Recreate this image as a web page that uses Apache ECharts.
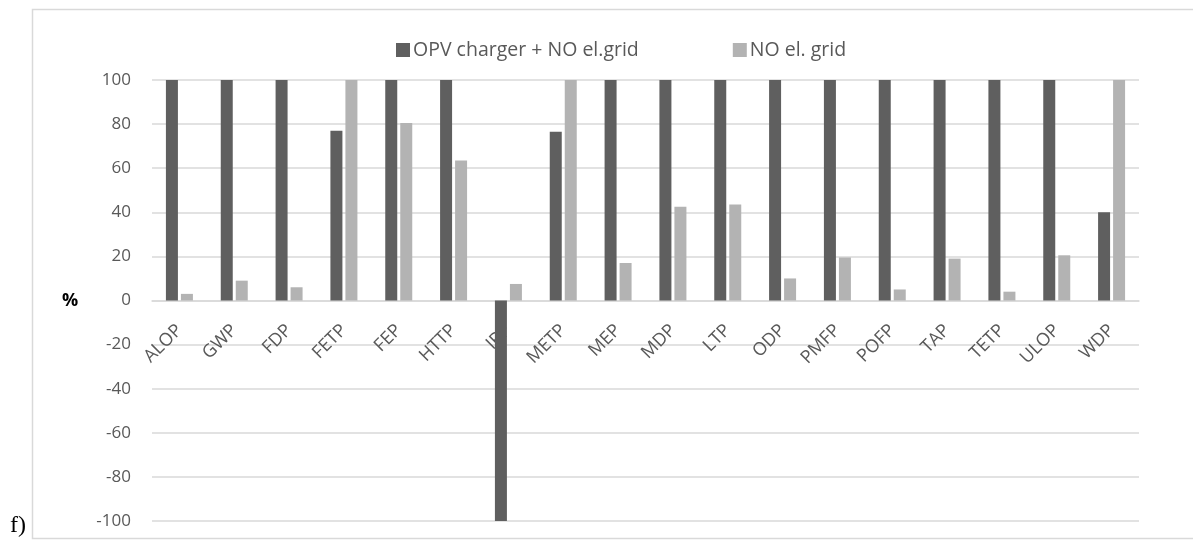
<!DOCTYPE html>
<html>
<head>
<meta charset="utf-8">
<script src="https://cdn.jsdelivr.net/npm/echarts@6/dist/echarts.min.js"></script>
<style>
html,body{margin:0;padding:0;background:#fff;}
#c{width:1193px;height:540px;}
</style>
</head>
<body>
<div id="c"></div>
<script>
var categories = ['ALOP','GWP','FDP','FETP','FEP','HTTP','IRP','METP','MEP','MDP','LTP','ODP','PMFP','POFP','TAP','TETP','ULOP','WDP'];
var opvCharger = [100,100,100,77,100,100,-100,76.5,100,100,100,100,100,100,100,100,100,40];
var noGrid = [3,9,6,100,80.5,63.5,7.5,100,17,42.5,43.5,10,19.5,5,19,4,20.5,100];
var seriesNames = ['OPV charger + NO el.grid','NO el. grid'];
var yTicks = {min:-100, max:100, interval:20};

var chart = echarts.init(document.getElementById('c'), null, {renderer:'canvas'});
var txt = '#595959';
chart.setOption({
  animation:false,
  backgroundColor:'#fff',
  textStyle:{fontFamily:'Open Sans'},
  legend:{
    top:35, left:391,
    itemWidth:14, itemHeight:14, itemGap:94,
    icon:'rect',
    textStyle:{color:txt, fontSize:19.5, fontFamily:'Open Sans', padding:[0,0,0,-2]},
    data:seriesNames
  },
  grid:{left:152, right:54, top:80, bottom:19, containLabel:false},
  xAxis:{
    type:'category', data:categories,
    offset:-220.5,
    axisLine:{show:true, onZero:false, lineStyle:{color:'#d9d9d9', width:1.5}},
    axisTick:{show:false},
    axisLabel:{rotate:45, margin:27, color:txt, fontSize:18, fontFamily:'Open Sans', interval:0}
  },
  yAxis:{
    type:'value', min:yTicks.min, max:yTicks.max, interval:yTicks.interval,
    axisLine:{show:false}, axisTick:{show:false},
    axisLabel:{color:txt, fontSize:17, margin:21, fontFamily:'Open Sans'},
    splitLine:{lineStyle:{color:'#d9d9d9', width:1.5}}
  },
  series:[
    {name:seriesNames[0], type:'bar', data:opvCharger, barWidth:12, barGap:'25%',
     itemStyle:{color:'#5f5f5f'}, z:5},
    {name:seriesNames[1], type:'bar', data:noGrid, barWidth:12,
     itemStyle:{color:'#b3b3b3'}, z:5}
  ],
  graphic:[
    {type:'rect', left:30, top:7, silent:true, z:-1,
     shape:{width:1200, height:529},
     style:{fill:null, stroke:'#d9d9d9', lineWidth:1.5}},
    {type:'text', left:62, top:292,
     style:{text:'%', fill:'#000', fontSize:18, fontWeight:'bold', fontFamily:'Open Sans'}},
    {type:'text', left:10, top:514,
     style:{text:'f)', fill:'#000', fontSize:24, fontFamily:'Liberation Serif'}}
  ]
});
</script>
</body>
</html>
